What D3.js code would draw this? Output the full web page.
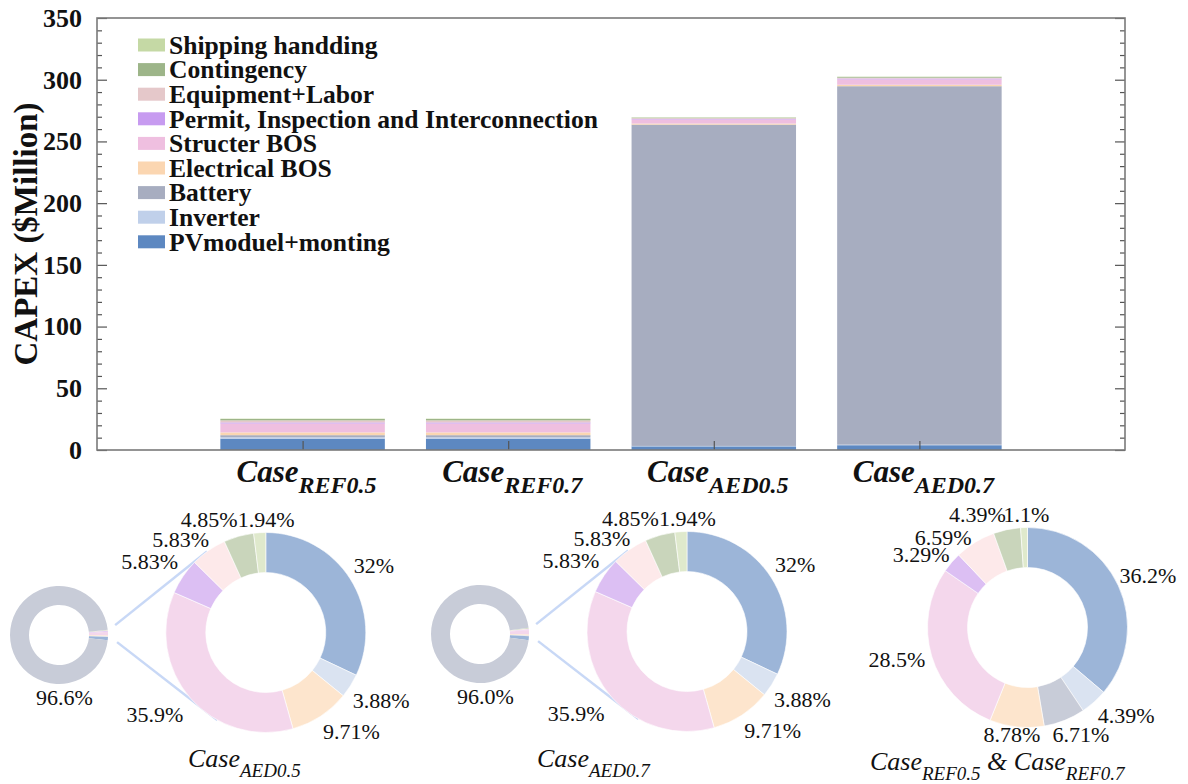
<!DOCTYPE html>
<html>
<head>
<meta charset="utf-8">
<script src="https://cdn.jsdelivr.net/npm/d3@7"></script>
<style>
  body { margin: 0; background: #fff; }
  svg { display: block; }
  text { font-family: "Liberation Serif", "Times New Roman", Times, serif; fill: #111; }
</style>
</head>
<body>
<svg id="chart" width="1188" height="784"></svg>
<script>
// ---- data -------------------------------------------------------------
const components = [
  "PVmoduel+monting", "Inverter", "Battery", "Electrical BOS", "Structer BOS",
  "Permit, Inspection and Interconnection", "Equipment+Labor", "Contingency", "Shipping handding"
];
const caseNames = ["REF0.5", "REF0.7", "AED0.5", "AED0.7"];

// CAPEX per component ($Million), same order as components
const capexREF05 = [9.20, 1.12, 1.70, 2.23, 7.24, 0.84, 1.67, 1.12, 0.28];
const capexREF07 = [9.20, 1.12, 1.70, 2.23, 7.24, 0.84, 1.67, 1.12, 0.28];
const capexAED05 = [2.94, 0.36, 260.3, 0.89, 3.29, 0.53, 0.53, 0.45, 0.18];
const capexAED07 = [3.87, 0.47, 290.4, 1.17, 4.35, 0.70, 0.70, 0.59, 0.23];

const yTicks = [0, 50, 100, 150, 200, 250, 300, 350];

// Cost shares (%) shown on the rings
const aedOtherShare = ["32", "3.88", "9.71", "35.9", "5.83", "5.83", "4.85", "1.94"]; // all but Battery
const aedBattery05 = "96.6";
const aedBattery07 = "96.0";
const refShare = ["36.2", "4.39", "6.71", "8.78", "28.5", "3.29", "6.59", "4.39", "1.1"];

// ---- styling ----------------------------------------------------------
const barColors = ["#5d88c1", "#c0d0ea", "#a7adc0", "#fbd6b1", "#efbfe0", "#c79bf0", "#e5c8ca", "#9db589", "#c5d9a5"];
const ringColors = ["#9cb5d8", "#dae3f1", "#c8ccd8", "#fde5cd", "#f4d7ec", "#dcbff3", "#fde9ea", "#c9d5bb", "#dfe9cc"];

const svg = d3.select("#chart");
const plot = { left: 97, right: 1125, top: 18, bottom: 450 };

// ---- stacked bars -----------------------------------------------------
const caseValues = [capexREF05, capexREF07, capexAED05, capexAED07];
const rows = caseValues.map((vals, i) => {
  const r = { idx: i + 1, name: caseNames[i] };
  components.forEach((c, j) => r[c] = vals[j]);
  return r;
});
const series = d3.stack().keys(components)(rows);

const x = d3.scaleLinear().domain([0, 5]).range([plot.left, plot.right]);
const y = d3.scaleLinear().domain([0, 350]).range([plot.bottom, plot.top]);
const barW = 0.8;

const gBars = svg.append("g");
series.forEach((s, k) => {
  gBars.selectAll(null).data(s).join("rect")
    .attr("x", d => x(d.data.idx - barW / 2))
    .attr("width", x(barW) - x(0))
    .attr("y", d => y(d[1]))
    .attr("height", d => Math.max(0, y(d[0]) - y(d[1])))
    .attr("fill", barColors[k]);
});

// axes: ticks point inward on both sides
const minor = d3.range(0, 351, 10).filter(v => v % 50 !== 0);
const axisStyle = g => {
  g.select(".domain").remove();
  g.selectAll(".tick line").attr("stroke", "#555").attr("stroke-width", 1.2);
};
svg.append("g").attr("transform", `translate(${plot.left},0)`)
  .call(d3.axisLeft(y).tickValues(yTicks).tickSize(-10).tickPadding(15).tickFormat(d3.format("d")))
  .call(axisStyle)
  .call(g => g.selectAll("text").attr("font-size", 26).attr("font-weight", "bold")
    .style("font-family", '"Liberation Serif", "Times New Roman", serif').attr("fill", "#111"));
svg.append("g").attr("transform", `translate(${plot.left},0)`)
  .call(d3.axisLeft(y).tickValues(minor).tickSize(-5).tickFormat(""))
  .call(axisStyle);
svg.append("g").attr("transform", `translate(${plot.right},0)`)
  .call(d3.axisRight(y).tickValues(yTicks).tickSize(-10).tickFormat(""))
  .call(axisStyle);
svg.append("g").attr("transform", `translate(${plot.right},0)`)
  .call(d3.axisRight(y).tickValues(minor).tickSize(-5).tickFormat(""))
  .call(axisStyle);
svg.append("g").attr("transform", `translate(0,${plot.bottom})`)
  .call(d3.axisBottom(x).tickValues([1, 2, 3, 4]).tickSize(-9).tickFormat(""))
  .call(axisStyle);

svg.append("rect")
  .attr("x", plot.left).attr("y", plot.top)
  .attr("width", plot.right - plot.left).attr("height", plot.bottom - plot.top)
  .attr("fill", "none").attr("stroke", "#7a7a7a").attr("stroke-width", 1.6);

// category labels: Case with subscript
caseNames.forEach((n, i) => {
  const t = svg.append("text")
    .attr("x", x(i + 1) + 4).attr("y", 482)
    .attr("text-anchor", "middle")
    .attr("font-weight", "bold").attr("font-style", "italic");
  t.append("tspan").attr("font-size", 31).text("Case");
  t.append("tspan").attr("font-size", 24).attr("dy", 11).text(n);
});

// y-axis title
svg.append("text")
  .attr("transform", `translate(37,${(plot.top + plot.bottom) / 2}) rotate(-90)`)
  .attr("text-anchor", "middle")
  .attr("font-size", 33).attr("font-weight", "bold")
  .text("CAPEX ($Million)");

// legend (top of stack first)
const legend = svg.append("g").attr("transform", "translate(138,45)");
components.slice().reverse().forEach((c, i) => {
  const k = components.length - 1 - i;
  const row = legend.append("g").attr("transform", `translate(0,${i * 24.6})`);
  row.append("rect").attr("x", 0).attr("y", -6.5).attr("width", 27).attr("height", 13).attr("fill", barColors[k]);
  row.append("text").attr("x", 31).attr("y", 0).attr("dy", "0.34em")
    .attr("font-size", 25.6).attr("font-weight", "bold").text(c);
});

// ---- rings ------------------------------------------------------------
const rad = Math.PI / 180;
const pie = d3.pie().sort(null).value(d => d.v);
const bigArc = d3.arc().innerRadius(60).outerRadius(100);
const smallArc = d3.arc().innerRadius(30).outerRadius(49);

// label placement: angle offset (deg) from slice middle, distance from centre
const aedLabelPos = [[0.8, 127], [-1.7, 134], [-7.6, 131], [4.6, 138], [-2.6, 136], [-7.6, 126], [-11, 126], [3.7, 112.5]];
const refLabelPos = [[1.7, 131], [-6.6, 132], [-4.7, 120], [2.1, 108.6], [2.8, 134.5], [-6.2, 128.8], [-11.6, 123], [-12.2, 123], [1.4, 112.5]];

function drawRing(cx, cy, items, labelPos) {
  const g = svg.append("g").attr("transform", `translate(${cx},${cy})`);
  const arcs = pie(items);
  g.selectAll("path").data(arcs).join("path")
    .attr("d", bigArc).attr("fill", d => d.data.c)
    .attr("stroke", "#fff").attr("stroke-width", 0.6);
  arcs.forEach((a, i) => {
    const mid = (a.startAngle + a.endAngle) / 2 + labelPos[i][0] * rad;
    const r = labelPos[i][1];
    g.append("text")
      .attr("x", r * Math.sin(mid)).attr("y", -r * Math.cos(mid))
      .attr("dy", "0.33em").attr("text-anchor", "middle")
      .attr("font-size", 22).attr("fill", "#222")
      .text(a.data.label + "%");
  });
}

function drawAedGroup(bx, by, sx, sy, batteryShare) {
  const others = 100 - +batteryShare;
  // small ring: non-battery items gathered around 3 o'clock, battery fills the rest
  const smallItems = aedOtherShare.map((p, i) => {
    const k = i >= 2 ? i + 1 : i; // skip Battery index
    return { v: others * (+p) / 100, c: ringColors[k] };
  }).reverse();
  smallItems.push({ v: +batteryShare, c: ringColors[2] });
  const span = others / 100 * 360;
  const sPie = d3.pie().sort(null).value(d => d.v)
    .startAngle((90 - span / 2) * rad).endAngle((450 - span / 2) * rad);
  const gs = svg.append("g").attr("transform", `translate(${sx},${sy})`);
  gs.selectAll("path").data(sPie(smallItems)).join("path")
    .attr("d", smallArc).attr("fill", d => d.data.c);

  // zoom connector lines
  const lines = [[80, 57, 324, 100], [97, 58.5, 209, 100]];
  lines.forEach(([a0, r0, a1, r1]) => {
    svg.append("line")
      .attr("x1", sx + r0 * Math.sin(a0 * rad)).attr("y1", sy - r0 * Math.cos(a0 * rad))
      .attr("x2", bx + r1 * Math.sin(a1 * rad)).attr("y2", by - r1 * Math.cos(a1 * rad))
      .attr("stroke", "#c8d8f6").attr("stroke-width", 2.5);
  });

  svg.append("text").attr("x", sx + 5.5).attr("y", sy + 70)
    .attr("text-anchor", "middle").attr("font-size", 22).attr("fill", "#222")
    .text(batteryShare + "%");

  const items = aedOtherShare.map((p, i) => {
    const k = i >= 2 ? i + 1 : i;
    return { v: +p, c: ringColors[k], label: p };
  });
  drawRing(bx, by, items, aedLabelPos);
}

// caption of a ring: italic words, some set as subscripts
function caption(x0, yb, parts) {
  const t = svg.append("text").attr("x", x0).attr("y", yb).attr("font-style", "italic").attr("fill", "#222");
  let shift = 0;
  parts.forEach(([txt, sub]) => {
    const target = sub ? 10 : 0;
    t.append("tspan")
      .attr("font-size", sub ? 19 : 26)
      .attr("dy", target - shift)
      .text(txt);
    shift = target;
  });
}

drawAedGroup(265.8, 632.5, 59, 635, aedBattery05);
drawAedGroup(687, 631.5, 480, 634, aedBattery07);

drawRing(1027.5, 627.5, refShare.map((p, i) => ({ v: +p, c: ringColors[i], label: p })), refLabelPos);

caption(188, 767, [["Case"], ["AED0.5", 1]]);
caption(537, 767, [["Case"], ["AED0.7", 1]]);
caption(870, 770, [["Case"], ["REF0.5", 1], [" & "], ["Case"], ["REF0.7", 1]]);
</script>
</body>
</html>
